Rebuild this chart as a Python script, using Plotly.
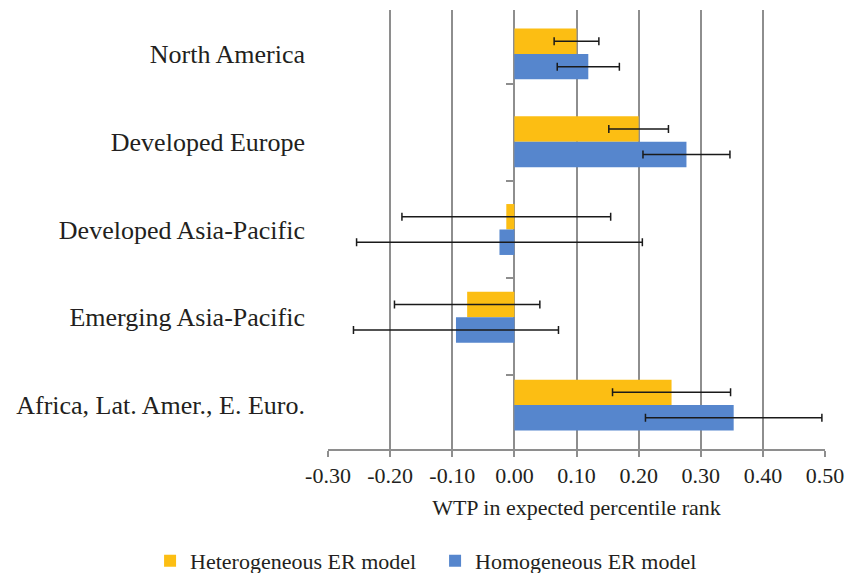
import plotly.graph_objects as go

regions = ["North America", "Developed Europe", "Developed Asia-Pacific",
           "Emerging Asia-Pacific", "Africa, Lat. Amer., E. Euro."]
het_vals = [0.100, 0.200, -0.013, -0.076, 0.253]
het_err = [0.036, 0.048, 0.168, 0.117, 0.095]
hom_vals = [0.119, 0.277, -0.024, -0.094, 0.353]
hom_err = [0.050, 0.070, 0.230, 0.165, 0.142]
x_ticks = [-0.3, -0.2, -0.1, 0.0, 0.1, 0.2, 0.3, 0.4, 0.5]
x_ticktext = ["-0.30", "-0.20", "-0.10", "0.00", "0.10", "0.20", "0.30", "0.40", "0.50"]

FONT = "Liberation Serif"
TXT = "#231F20"
GRID = "#8E8E8E"

fig = go.Figure()
fig.add_trace(go.Bar(
    name="Heterogeneous ER model", y=regions, x=het_vals, orientation="h",
    marker=dict(color="#FCBE13", line=dict(width=0)),
    error_x=dict(type="data", array=het_err, visible=True, color="#1a1a1a",
                 thickness=1.5, width=4),
))
fig.add_trace(go.Bar(
    name="Homogeneous ER model", y=regions, x=hom_vals, orientation="h",
    marker=dict(color="#5686CD", line=dict(width=0)),
    error_x=dict(type="data", array=hom_err, visible=True, color="#1a1a1a",
                 thickness=1.5, width=4),
))
# invisible helper trace to carry category ticks on the zero line
fig.add_trace(go.Scatter(
    y=regions, x=[0] * len(regions), yaxis="y2", mode="markers",
    marker=dict(opacity=0), showlegend=False, hoverinfo="skip",
))

fig.update_layout(
    width=846, height=573,
    margin=dict(l=328, r=21, t=10, b=124, autoexpand=False),
    paper_bgcolor="white", plot_bgcolor="white",
    barmode="group", bargap=0.42, bargroupgap=0,
    font=dict(family=FONT, color=TXT, size=22),
    xaxis=dict(
        range=[-0.3, 0.5], tickvals=x_ticks, ticktext=x_ticktext,
        showgrid=True, gridcolor=GRID, gridwidth=1.5,
        zeroline=True, zerolinecolor=GRID, zerolinewidth=1.5,
        showline=True, linecolor=GRID, linewidth=1.5,
        ticks="outside", ticklen=6, tickcolor=GRID, tickwidth=1.5,
        tickfont=dict(size=22, family=FONT, color=TXT),
        title=dict(text="WTP in expected percentile rank",
                   font=dict(size=22, family=FONT, color=TXT), standoff=12),
        automargin=False,
    ),
    yaxis=dict(
        autorange="reversed", showgrid=False, zeroline=False, showline=False,
        ticks="", tickfont=dict(size=26, family=FONT, color=TXT),
        ticklabelstandoff=22, automargin=False,
    ),
    yaxis2=dict(
        overlaying="y", anchor="free", position=0.375, side="left",
        autorange="reversed", showgrid=False, zeroline=False, showline=False,
        ticks="outside", ticklen=8, tickcolor=GRID, tickwidth=1.5,
        tickson="boundaries", showticklabels=False, automargin=False,
    ),
    legend=dict(
        orientation="h", x=-0.358, xanchor="left", y=-0.255, yanchor="middle",
        font=dict(size=22, family=FONT, color=TXT),
        itemwidth=30, tracegroupgap=0, entrywidth=240,
    ),
)

fig.write_html("out.html", config={"displayModeBar": False},
               post_script="document.body.style.margin='0';")
